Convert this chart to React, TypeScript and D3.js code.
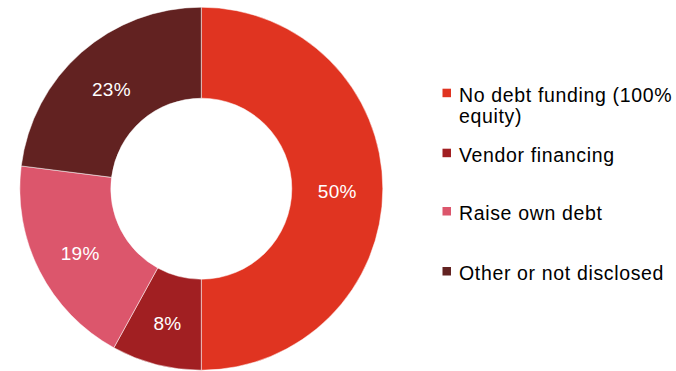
import React from "react";
import * as d3 from "d3";

const categories = ["No debt funding (100% equity)", "Vendor financing", "Raise own debt", "Other or not disclosed"];
const legendLines = [["No debt funding (100%", "equity)"], ["Vendor financing"], ["Raise own debt"], ["Other or not disclosed"]];
const values = [50, 8, 19, 23];
const colors = ["#E03421", "#A11F22", "#DC566C", "#622221"];
const legendBaselines = [101.7, 161.7, 220, 280];

const W = 676;
const H = 371;

export default function App() {
  const cx = 201.3;
  const cy = 188.7;
  const outerR = 181.5;
  const innerR = 90.5;
  const pie = d3.pie<number>().sort(null).value((d) => d)(values);
  const arc = d3.arc<d3.PieArcDatum<number>>().innerRadius(innerR).outerRadius(outerR);
  const font = "'Liberation Sans', Arial, sans-serif";
  return (
    <svg width={W} height={H} style={{ position: "absolute", left: 0, top: 0, background: "#fff" }}>
      <g transform={`translate(${cx},${cy})`}>
        {pie.map((p, i) => (
          <path key={i} d={arc(p) || ""} fill={colors[i]} stroke="#fff" strokeWidth={0.5} />
        ))}
        {pie.map((p, i) => {
          const [x, y] = arc.centroid(p);
          return (
            <text
              key={"l" + i}
              x={x}
              y={y + 9.5}
              textAnchor="middle"
              fill="#fff"
              fontFamily={font}
              fontSize={19}
              letterSpacing={0.3}
            >
              {`${values[i]}%`}
            </text>
          );
        })}
      </g>
      <g>
        {categories.map((c, i) => (
          <g key={c}>
            <rect x={442.5} y={legendBaselines[i] - 13} width={8.5} height={8.5} fill={colors[i]} />
            {legendLines[i].map((line, j) => (
              <text
                key={j}
                x={459}
                y={legendBaselines[i] + j * 21}
                fill="#000"
                fontFamily={font}
                fontSize={19.5}
                letterSpacing={0.65}
              >
                {line}
              </text>
            ))}
          </g>
        ))}
      </g>
    </svg>
  );
}
